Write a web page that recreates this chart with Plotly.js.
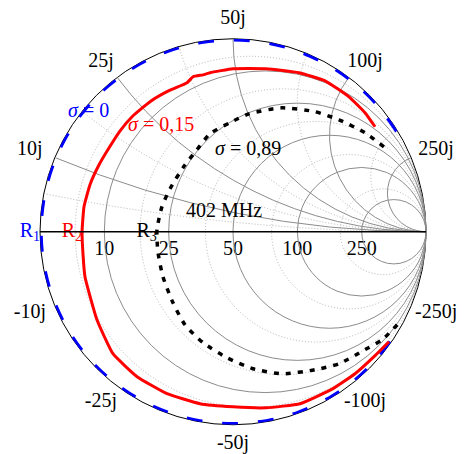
<!DOCTYPE html>
<html><head><meta charset="utf-8">
<script src="https://cdn.plot.ly/plotly-3.0.1.min.js"></script>
<style>html,body{margin:0;padding:0;background:#fff}</style>
</head><body><div id="chart" style="width:464px;height:454px"></div>
<script>
// ---------- data ----------
const Z0 = 50;                                   // reference impedance (ohm)
const majorTicks = [0.2, 0.5, 1, 2, 5];          // normalized grid values
const minorTicks = [0.1, 0.35, 0.75, 1.5, 3.5];  // dotted grid values
const realTickLabels = ['10', '25', '50', '100', '250'];
const imagTickOhms = [10, 25, 50, 100, 250, -10, -25, -50, -100, -250];
const imagTickLabels = ['10j', '25j', '50j', '100j', '250j', '-10j', '-25j', '-50j', '-100j', '-250j'];

// sigma = 0 : reactance (ohm) along the rim
const sigma0_X = [177, 137, 107, 87, 71, 60, 50, 42, 35, 29, 23, 18, 13.4, 8.8, 4.4, 0,
  -4.4, -8.8, -13.4, -18, -23, -29, -35, -42, -50, -60, -71, -87, -107, -137, -170, -189];

// sigma = 0.15 : reflection coefficient (re, im)
const sigma015_re = [0.736, 0.684, 0.601, 0.477, 0.342, 0.171, 0.000, -0.119, -0.155, -0.207, -0.238,
  -0.332, -0.430, -0.518, -0.585, -0.642, -0.694, -0.741, -0.772, -0.782, -0.777, -0.767, -0.705, -0.622,
  -0.497, -0.342, -0.171, 0.000, 0.171, 0.347, 0.518, 0.632, 0.736, 0.808];
const sigma015_im = [0.544, 0.617, 0.699, 0.782, 0.824, 0.845, 0.845, 0.824, 0.813, 0.803, 0.772,
  0.731, 0.674, 0.601, 0.523, 0.435, 0.347, 0.244, 0.130, 0.000, -0.119, -0.233, -0.456, -0.632,
  -0.751, -0.839, -0.891, -0.907, -0.912, -0.891, -0.813, -0.736, -0.642, -0.570];

// sigma = 0.89 : reflection coefficient (re, im)
const sigma089_re = [0.782, 0.684, 0.549, 0.425, 0.254, 0.083, -0.016, -0.119, -0.187, -0.259, -0.326,
  -0.368, -0.394, -0.389, -0.363, -0.311, -0.249, -0.155, -0.031, 0.104, 0.254, 0.425, 0.549, 0.684, 0.772, 0.855];
const sigma089_im = [0.440, 0.513, 0.580, 0.622, 0.642, 0.611, 0.565, 0.508, 0.425, 0.332, 0.223,
  0.130, 0.010, -0.104, -0.233, -0.368, -0.482, -0.575, -0.653, -0.710, -0.736, -0.715, -0.684, -0.611, -0.560, -0.477];

// resistances where each curve crosses the real axis (ohm)
const crossR = [0, 6.1, 21.7];
const crossLabels = ['R<sub>1</sub>', 'R<sub>2</sub>', 'R<sub>3</sub>'];
const crossColors = ['#0000ff', '#ff0000', '#000000'];

// ---------- helpers ----------
function gammaToZ(re, im) {           // z = (1+G)/(1-G)
  const a = 1 + re, b = im, c = 1 - re, d = -im;
  const den = c * c + d * d;
  return [(a * c + b * d) / den, (b * c - a * d) / den];
}
function curve(reArr, imArr) {
  const z = reArr.map((r, i) => gammaToZ(r, imArr[i]));
  return { real: z.map(p => p[0]), imag: z.map(p => p[1]) };
}
// angle of the rim point for reactance x (normalized)
function rimAngle(x) { return Math.atan2(2 * x, x * x - 1); }

const FONT = 'Liberation Serif, Times New Roman, serif';
const FS = 20;
const W = 464, H = 454;
const CX = 233, CY = 231.75, RAD = 193;          // chart circle in px (layout)
const dom = { x: [(CX - RAD) / W, (CX + RAD) / W], y: [1 - (CY + 193.25) / H, 1 - (CY - 193.25) / H] };
const labelRX = 1.14, labelRY = 1.10;   // label distance from the rim (style)
const HX = 1.18, HY = 1.15;             // helper frame half-ranges
const helperDom = {
  x: [(CX - HX * RAD) / W, (CX + HX * RAD) / W],
  y: [Math.max(0, 1 - (CY + HY * RAD) / H), 1 - (CY - HY * RAD) / H]
};

const c015 = curve(sigma015_re, sigma015_im);
const c089 = curve(sigma089_re, sigma089_im);

const traces = [
  { // imaginary tick labels around the rim (helper frame aligned with the chart)
    type: 'scatter', xaxis: 'x', yaxis: 'y', mode: 'text', cliponaxis: false,
    x: imagTickOhms.map(v => labelRX * Math.cos(rimAngle(v / Z0))),
    y: imagTickOhms.map(v => labelRY * Math.sin(rimAngle(v / Z0))),
    text: imagTickLabels, textposition: 'middle center',
    textfont: { family: FONT, size: FS, color: '#000' }, hoverinfo: 'skip', showlegend: false
  },
  { // real tick labels
    type: 'scattersmith', subplot: 'smith', mode: 'markers+text', cliponaxis: false,
    real: majorTicks, imag: majorTicks.map(() => 0), text: realTickLabels,
    marker: { size: 12, opacity: 0 },
    textposition: 'bottom center', textfont: { family: FONT, size: FS, color: '#000' },
    hoverinfo: 'skip', showlegend: false
  },
  { // sigma = 0
    type: 'scattersmith', subplot: 'smith2', mode: 'lines', cliponaxis: false,
    real: sigma0_X.map(() => 0), imag: sigma0_X.map(x => x / Z0),
    line: { color: '#0000ff', width: 5.5, dash: '16px,20px', shape: 'spline', smoothing: 1 },
    hoverinfo: 'skip', showlegend: false
  },
  { // sigma = 0.15
    type: 'scattersmith', subplot: 'smith2', mode: 'lines', cliponaxis: false,
    real: c015.real, imag: c015.imag,
    line: { color: '#ff0000', width: 3, shape: 'spline', smoothing: 0.4 }, hoverinfo: 'skip', showlegend: false
  },
  { // sigma = 0.89
    type: 'scattersmith', subplot: 'smith2', mode: 'lines', cliponaxis: false,
    real: c089.real, imag: c089.imag,
    line: { color: '#000000', width: 3.5, dash: '5px,7px', shape: 'spline', smoothing: 0.6 }, hoverinfo: 'skip', showlegend: false
  },
  { // R labels
    type: 'scattersmith', subplot: 'smith2', mode: 'text', cliponaxis: false,
    real: crossR.map(r => r / Z0), imag: crossR.map(() => 0), text: crossLabels,
    textposition: 'middle left', textfont: { family: FONT, size: FS, color: crossColors },
    hoverinfo: 'skip', showlegend: false
  }
];

const axCommon = { showticklabels: false, ticks: '' };
const layout = {
  width: W, height: H, margin: { l: 0, r: 0, t: 0, b: 0 },
  paper_bgcolor: '#fff', plot_bgcolor: 'rgba(0,0,0,0)', showlegend: false,
  font: { family: FONT, size: FS, color: '#000' },
  xaxis: { domain: helperDom.x, range: [-HX, HX], visible: false, fixedrange: true },
  yaxis: { domain: helperDom.y, range: [-HY, HY], visible: false, fixedrange: true },
  smith: { // lower layer: dotted minor grid and the outer rim
    domain: dom, bgcolor: '#fff',
    realaxis: Object.assign({ tickvals: minorTicks, showline: false, gridcolor: '#b4b4b4', griddash: '1px,2px', gridwidth: 1 }, axCommon),
    imaginaryaxis: Object.assign({ tickvals: minorTicks, showline: true, linecolor: '#000', linewidth: 1, gridcolor: '#b4b4b4', griddash: '1px,2px', gridwidth: 1 }, axCommon)
  },
  smith2: { // upper layer: major grid, real axis and the curves
    domain: dom, bgcolor: 'rgba(0,0,0,0)',
    realaxis: Object.assign({ tickvals: majorTicks, showline: true, linecolor: '#000', linewidth: 1.5, gridcolor: '#8c8c8c', gridwidth: 1 }, axCommon),
    imaginaryaxis: Object.assign({ tickvals: majorTicks, showline: false, gridcolor: '#8c8c8c', gridwidth: 1 }, axCommon)
  },
  annotations: [
    { text: '<i>σ</i> = 0', x: 88 / W, y: 1 - 110 / H, font: { color: '#0000ff' } },
    { text: '<i>σ</i> = 0,15', x: 161 / W, y: 1 - 124 / H, font: { color: '#ff0000' } },
    { text: '<i>σ</i> = 0,89', x: 248 / W, y: 1 - 148 / H, font: { color: '#000000' } },
    { text: '402 MHz', x: 224 / W, y: 1 - 210 / H, font: { color: '#000000' } }
  ].map(a => Object.assign({ xref: 'paper', yref: 'paper', showarrow: false, xanchor: 'center', yanchor: 'middle' }, a,
    { font: Object.assign({ family: FONT, size: FS }, a.font) }))
};

Plotly.newPlot('chart', traces, layout, { displayModeBar: false, staticPlot: true });
</script>
</body></html>
